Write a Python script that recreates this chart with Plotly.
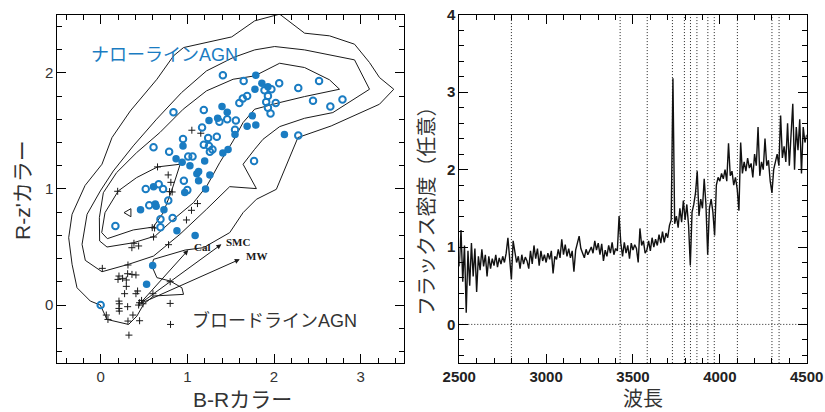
import plotly.graph_objects as go

# ---------------- Left panel data (B-R vs R-z') ----------------
open_x = [0.00, 0.17, 0.61, 0.84, 1.41, 0.79, 0.95, 0.52, 0.67, 0.72, 0.56, 0.69, 0.78, 0.83, 0.69,
          0.96, 1.00, 1.01, 1.06, 1.17, 1.19, 1.19, 1.24, 1.25, 1.26, 1.29, 1.34, 1.37, 1.46, 1.55,
          1.56, 1.60, 1.64, 1.69, 1.65, 1.77, 1.89, 1.97, 1.93, 1.91, 1.93, 1.96, 2.02, 2.06, 2.28,
          2.28, 2.45, 2.52, 2.65, 2.79]
open_y = [0.00, 0.68, 1.36, 1.66, 1.98, 1.32, 1.43, 1.00, 1.04, 1.00, 0.86, 0.74, 0.90, 0.75, 0.67,
          1.07, 0.99, 1.28, 1.28, 1.53, 1.68, 1.38, 1.44, 1.37, 1.32, 1.34, 1.45, 1.58, 1.60, 1.51,
          1.59, 1.74, 1.78, 1.80, 1.93, 1.24, 1.85, 1.86, 1.80, 1.75, 1.70, 1.65, 1.74, 1.91, 1.87,
          1.46, 1.76, 1.93, 1.71, 1.77]

filled_x = [1.79, 1.86, 1.93, 1.78, 1.40, 1.46, 1.25, 1.35, 1.75, 1.79, 1.69, 1.55, 2.12, 1.47, 1.41,
            0.95, 0.87, 0.94, 1.03, 1.20, 1.11, 1.13, 1.13, 1.26, 1.21, 0.97, 0.61, 0.63, 0.64, 0.73,
            0.46, 0.88, 1.09, 0.60, 0.53]
filled_y = [1.98, 1.91, 1.88, 1.86, 1.71, 1.66, 1.59, 1.61, 1.63, 1.55, 1.54, 1.47, 1.47, 1.34, 1.31,
            1.37, 1.26, 1.23, 1.20, 1.24, 1.13, 1.15, 1.07, 1.12, 1.00, 0.97, 1.02, 0.87, 0.85, 0.82,
            0.82, 0.64, 0.60, 0.34, 0.18]

cross_x = [0.196, 0.779, 0.810, 0.795, 0.825, 1.052, 1.155, 0.656, 1.117, 1.048, 0.990, 0.595, 0.622,
           0.610, 0.384, 0.438, 0.360, 0.783, 0.019, 0.315, 0.211, 0.253, 0.311, 0.361, 0.407, 0.200,
           0.296, 0.296, 0.276, 0.426, 0.407, 0.211, 0.215, 0.211, 0.215, 0.311, 0.449, 0.472, 0.488,
           0.438, 0.372, 0.065, 0.084, 0.315, 0.449, 0.326, 0.802, 0.806, 0.802, 0.603]
cross_y = [0.980, 1.121, 1.057, 0.977, 0.974, 1.506, 1.480, 1.190, 0.874, 0.816, 0.733, 0.667, 0.664,
           0.586, 0.532, 0.509, 0.494, 0.520, 0.316, 0.345, 0.250, 0.230, 0.270, 0.264, 0.259, 0.221,
           0.216, 0.161, 0.098, 0.121, 0.098, 0.034, 0.011, -0.029, -0.052, -0.014, 0.020, 0.040, 0.011,
           0.000, -0.086, -0.086, -0.124, -0.138, -0.135, -0.259, 0.014, -0.167, 0.201, 0.098]

# density contours (closed polygons, data units)
c1_x = [-0.18, 0.015, 0.131, 0.342, 0.649, 0.841, 0.956, 1.512, 1.777, 2.065, 2.353, 2.641, 2.929,
        3.102, 3.217, 3.382, 3.217, 2.660, 2.276, 2.027, 1.797, 1.643, 1.489, 1.186, 0.975, 0.610,
        0.591, 0.649, 0.802, 0.937, 0.956, 0.610, 0.495, 0.418, 0.322, 0.073, -0.004, -0.119, -0.273,
        -0.330, -0.369, -0.330]
c1_y = [1.03, 1.213, 1.443, 1.672, 1.945, 2.147, 2.218, 2.310, 2.448, 2.506, 2.342, 2.319, 2.247,
        2.089, 1.960, 1.859, 1.730, 1.543, 1.443, 0.997, 0.911, 0.796, 0.624, 0.494, 0.474, 0.394,
        0.336, 0.236, 0.207, 0.149, 0.092, 0.078, 0.006, -0.095, -0.167, -0.124, 0.000, 0.034, 0.149,
        0.351, 0.580, 0.782]
c2_x = [0.015, -0.177, -0.215, -0.157, -0.004, 0.146, 0.376, 0.645, 0.933, 1.221, 1.528, 1.777, 2.008,
        2.353, 2.929, 3.102, 2.679, 2.353, 2.065, 1.873, 1.777, 1.643, 1.797, 1.489, 1.221, 0.914,
        0.610, 0.322]
c2_y = [0.287, 0.385, 0.523, 0.782, 0.983, 1.155, 1.371, 1.601, 1.830, 2.017, 2.132, 2.198, 2.227,
        2.198, 2.112, 1.859, 1.658, 1.609, 1.537, 1.428, 1.342, 1.213, 1.003, 1.020, 0.825, 0.609,
        0.422, 0.351]
c3_x = [0.073, 0.380, 0.630, 0.841, 1.071, 1.225, 1.374, 1.528, 1.643, 1.777, 2.065, 2.353, 2.756,
        2.641, 2.353, 2.065, 1.777, 1.528, 1.221, 0.952, 0.683, 0.415, 0.184, 0.031, -0.015, -0.012]
c3_y = [0.500, 0.537, 0.595, 0.739, 0.882, 1.026, 1.227, 1.414, 1.572, 1.687, 1.744, 1.796, 1.859,
        1.940, 2.046, 2.083, 1.974, 1.945, 1.845, 1.687, 1.486, 1.313, 1.141, 0.968, 0.753, 0.552]
c4_x = [0.917, 0.656, 0.415, 0.203, 0.050, 0.012, 0.077, 0.376, 0.607, 0.722, 0.818]
c4_y = [1.213, 1.190, 1.098, 0.983, 0.796, 0.624, 0.572, 0.647, 0.672, 0.796, 0.983]
c5_x = [0.269, 0.349, 0.349]
c5_y = [0.796, 0.830, 0.761]

# reddening vectors
vec_origin = (0.45, 0.01)
vec_names = ["Cal", "SMC", "MW"]
vec_head_x = [1.01, 1.393, 1.605]
vec_head_y = [0.474, 0.523, 0.394]
vec_label_x = [1.05, 1.42, 1.655]
vec_label_y = [0.50, 0.545, 0.425]

# ---------------- Right panel data (spectrum) ----------------
wavelength = list(range(2500, 4501, 10))
flux = [
    0.75, 1.22, 0.55, 1.02, 0.15, 0.95, 0.50, 1.05, 0.62, 0.98,
    0.42, 0.88, 0.70, 0.97, 0.75, 0.90, 0.62, 0.88, 0.72, 0.85,
    0.76, 0.90, 0.74, 0.86, 0.78, 0.88, 0.80, 0.92, 1.12, 0.78,
    0.58, 1.08, 0.95, 0.80, 0.88, 0.72, 0.90, 0.78, 0.87, 0.82,
    0.72, 0.95, 0.78, 1.02, 0.85, 0.98, 0.76, 0.95, 0.82, 0.90,
    0.80, 0.92, 0.84, 0.95, 0.66, 0.88, 0.84, 0.97, 0.86, 1.10,
    0.90, 1.03, 0.88, 0.98, 0.86, 0.95, 0.68, 0.96, 1.05, 1.14,
    0.98, 0.92, 0.86, 0.97, 0.90, 0.95, 1.00, 0.92, 1.08, 0.96,
    1.05, 0.90, 1.04, 0.82, 0.96, 0.88, 1.02, 0.92, 1.06, 0.90,
    0.98, 0.95, 1.40, 1.05, 0.88, 1.06, 0.92, 1.02, 0.85, 1.05,
    0.96, 1.03, 0.98, 0.80, 1.24, 1.02, 1.08, 0.92, 0.96, 1.08,
    0.95, 1.12, 1.00, 1.10, 1.02, 1.16, 1.05, 1.20, 1.06, 1.18,
    1.12, 1.28, 1.35, 3.18, 1.30, 1.40, 1.25, 1.50, 1.32, 1.60,
    1.35, 1.55, 1.28, 0.76, 1.45, 1.55, 1.70, 1.98, 1.40, 1.62,
    1.50, 1.88, 1.55, 0.90, 1.50, 1.62, 1.45, 1.15, 1.80, 1.90,
    1.85, 1.95, 1.88, 2.00, 1.85, 2.34, 1.92, 1.98, 1.80, 1.90,
    1.75, 1.47, 2.35, 1.95, 2.10, 1.98, 2.15, 2.02, 2.08, 1.90,
    2.20, 2.05, 2.55, 1.92, 2.10, 2.00, 2.40, 2.05, 2.12, 1.85,
    1.70, 2.00, 2.10, 2.20, 2.05, 2.70, 2.15, 2.30, 2.10, 2.60,
    2.05, 2.40, 2.85, 2.00, 2.55, 2.25, 2.65, 1.95, 2.55, 2.35,
    2.45]
line_marks = [2800, 3426, 3582, 3727, 3796, 3831, 3868, 3931, 3968, 4101, 4300, 4341]

BLUE = "#1a7cc2"
INK = "#1a1a1a"
LAT_JP = "Liberation Sans, Noto Sans CJK JP"

fig = go.Figure()

for cx, cy in [(c1_x, c1_y), (c2_x, c2_y), (c3_x, c3_y), (c4_x, c4_y), (c5_x, c5_y)]:
    fig.add_trace(go.Scatter(x=cx + cx[:1], y=cy + cy[:1], mode="lines",
                             line=dict(color=INK, width=1), xaxis="x", yaxis="y",
                             hoverinfo="skip", showlegend=False))

fig.add_trace(go.Scatter(x=cross_x, y=cross_y, mode="markers", xaxis="x", yaxis="y",
                         marker=dict(symbol="cross-thin-open", size=5, color=INK,
                                     line=dict(width=1, color=INK)), showlegend=False))
fig.add_trace(go.Scatter(x=open_x, y=open_y, mode="markers", xaxis="x", yaxis="y",
                         marker=dict(symbol="circle-open", size=6.5, color=BLUE,
                                     line=dict(width=2, color=BLUE)), showlegend=False))
fig.add_trace(go.Scatter(x=filled_x, y=filled_y, mode="markers", xaxis="x", yaxis="y",
                         marker=dict(symbol="circle", size=7.5, color=BLUE,
                                     line=dict(width=0)), showlegend=False))

# spectrum
fig.add_trace(go.Scatter(x=wavelength, y=flux, mode="lines", xaxis="x2", yaxis="y2",
                         line=dict(color="#111111", width=1.4), showlegend=False))

shapes = []
for lm in line_marks:
    shapes.append(dict(type="line", xref="x2", yref="y2", x0=lm, x1=lm, y0=-0.5, y1=4,
                       line=dict(color="#222222", width=1, dash="1px,2px"), layer="below"))
shapes.append(dict(type="line", xref="x2", yref="y2", x0=2500, x1=4500, y0=0, y1=0,
                   line=dict(color="#222222", width=1, dash="1px,2px"), layer="below"))

annotations = []
for name, hx, hy, lx, ly in zip(vec_names, vec_head_x, vec_head_y, vec_label_x, vec_label_y):
    annotations.append(dict(xref="x", yref="y", axref="x", ayref="y", x=hx, y=hy,
                            ax=vec_origin[0], ay=vec_origin[1], text="", showarrow=True,
                            arrowhead=2, arrowsize=1, arrowwidth=1, arrowcolor=INK))
    annotations.append(dict(xref="x", yref="y", x=lx, y=ly, text=name, showarrow=False,
                            xanchor="left", yanchor="middle",
                            font=dict(family="Liberation Serif", size=11, color=INK, weight="bold")))

annotations += [
    dict(xref="x", yref="y", x=-0.13, y=2.15, text="ナローラインAGN", showarrow=False,
         xanchor="left", yanchor="middle", font=dict(family=LAT_JP, size=18, color=BLUE)),
    dict(xref="x", yref="y", x=1.03, y=-0.13, text="ブロードラインAGN", showarrow=False,
         xanchor="left", yanchor="middle", font=dict(family=LAT_JP, size=18, color="#333333")),
    dict(xref="paper", yref="paper", x=242 / 825, y=1 - 399 / 412, text="B-Rカラー",
         showarrow=False, xanchor="center", yanchor="middle",
         font=dict(family=LAT_JP, size=21, color="#333333")),
    dict(xref="paper", yref="paper", x=22 / 825, y=1 - 190 / 412, text="R-z'カラー",
         showarrow=False, xanchor="center", yanchor="middle", textangle=-90,
         font=dict(family=LAT_JP, size=21, color="#333333")),
    dict(xref="paper", yref="paper", x=643 / 825, y=1 - 397 / 412, text="波長",
         showarrow=False, xanchor="center", yanchor="middle",
         font=dict(family="Noto Sans CJK JP", size=20, color="#333333")),
    dict(xref="paper", yref="paper", x=425 / 825, y=1 - 207 / 412, text="フラックス密度（任意）",
         showarrow=False, xanchor="center", yanchor="middle", textangle=-90,
         font=dict(family="Noto Sans CJK JP", size=20, color="#333333")),
]

def axis(domain, rng, dtick, minor_dtick, anchor, tickfont):
    return dict(domain=domain, range=rng, tickmode="linear", tick0=0, dtick=dtick,
                ticks="inside", ticklen=9, tickwidth=1, tickcolor="black",
                showline=True, linecolor="black", linewidth=1, mirror="allticks",
                showgrid=False, zeroline=False, anchor=anchor, tickfont=tickfont,
                automargin=False,
                minor=dict(dtick=minor_dtick, ticklen=5, ticks="inside", tickcolor="black",
                           showgrid=False))

left_font = dict(family="Liberation Sans", size=15, color="#333333")
right_font = dict(family="Liberation Sans", size=15, color="#222222", weight="bold")

YDOM = [0.1187, 0.9640]
fig.update_layout(
    width=825, height=412, margin=dict(l=0, r=0, t=0, b=0, autoexpand=False),
    paper_bgcolor="white", plot_bgcolor="white", showlegend=False,
    xaxis=axis([0.0695, 0.4897], [-0.5, 3.5], 1, 0.2, "y", left_font),
    yaxis=axis(YDOM, [-0.5, 2.5], 1, 0.2, "x", left_font),
    xaxis2=axis([0.5567, 0.9778], [2500, 4500], 500, 100, "y2", right_font),
    yaxis2=axis(YDOM, [-0.5, 4], 1, 0.2, "x2", right_font),
    shapes=shapes, annotations=annotations,
)
fig.write_html("out.html")
